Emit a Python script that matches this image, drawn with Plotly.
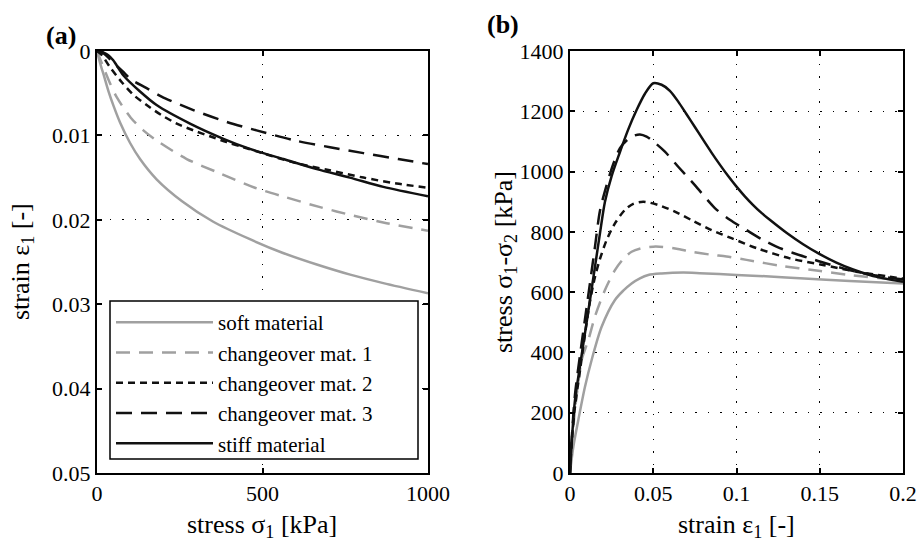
import plotly.graph_objects as go

# ---------- Panel (a): strain vs stress ----------
a_soft_x = [0, 5, 12, 20, 35, 50, 70, 100, 130, 180, 257, 350, 462, 560, 664, 765, 865, 1000]
a_soft_y = [0, 0.0008, 0.0018, 0.0028, 0.0048, 0.0065, 0.0085, 0.0109, 0.0128, 0.0152, 0.0178, 0.0202, 0.0223, 0.0239, 0.0253, 0.0265, 0.0275, 0.0287]

a_mat1_x = [0, 10, 20, 39, 60, 102, 140, 180, 271, 372, 477, 568, 674, 774, 875, 1000]
a_mat1_y = [0, 0.0010, 0.0020, 0.0038, 0.0055, 0.0079, 0.0094, 0.0106, 0.0128, 0.0145, 0.0162, 0.0173, 0.0185, 0.0195, 0.0204, 0.0213]

a_mat2_x = [0, 15, 39, 75, 110, 150, 195, 241, 291, 341, 392, 442, 500, 593, 699, 805, 905, 1000]
a_mat2_y = [0, 0.0005, 0.0019, 0.0037, 0.0052, 0.0064, 0.0076, 0.0086, 0.0094, 0.0101, 0.0108, 0.0114, 0.0121, 0.0132, 0.0141, 0.0150, 0.0157, 0.0162]

a_mat3_x = [0, 20, 50, 85, 100, 150, 195, 291, 392, 482, 598, 704, 805, 910, 1000]
a_mat3_y = [0, 0.0003, 0.0014, 0.0027, 0.0033, 0.0044, 0.0054, 0.0070, 0.0084, 0.0094, 0.0106, 0.0114, 0.0121, 0.0128, 0.0134]

a_stiff_x = [0, 10, 20, 34, 49, 80, 130, 180, 281, 382, 462, 563, 664, 764, 865, 1000]
a_stiff_y = [0, 0.0000, 0.0002, 0.0005, 0.0011, 0.0029, 0.0048, 0.0064, 0.0086, 0.0104, 0.0116, 0.0128, 0.0140, 0.0150, 0.0161, 0.0172]

# ---------- Panel (b): deviatoric stress vs strain ----------
b_soft_x = [0, 0.002, 0.005, 0.009, 0.013, 0.019, 0.027, 0.032, 0.037, 0.042, 0.047, 0.055, 0.068, 0.078, 0.1, 0.12, 0.138, 0.168, 0.2]
b_soft_y = [0, 87, 176, 286, 375, 485, 574, 605, 629, 646, 657, 662, 665, 663, 657, 652, 646, 637, 629]

b_mat1_x = [0, 0.001, 0.003, 0.005, 0.007, 0.011, 0.015, 0.021, 0.027, 0.032, 0.037, 0.043, 0.05, 0.056, 0.064, 0.073, 0.085, 0.094, 0.106, 0.127, 0.148, 0.168, 0.185, 0.2]
b_mat1_y = [0, 90, 210, 300, 375, 441, 519, 607, 673, 710, 734, 746, 751, 750, 744, 734, 724, 718, 707, 687, 672, 657, 647, 638]

b_mat2_x = [0, 0.001, 0.003, 0.006, 0.009, 0.012, 0.015, 0.018, 0.022, 0.027, 0.033, 0.038, 0.044, 0.053, 0.063, 0.073, 0.085, 0.097, 0.112, 0.132, 0.152, 0.172, 0.196, 0.2]
b_mat2_y = [0, 100, 220, 340, 460, 570, 650, 710, 773, 828, 873, 893, 900, 889, 867, 839, 806, 779, 746, 712, 690, 668, 648, 645]

b_mat3_x = [0, 0.001, 0.003, 0.006, 0.009, 0.012, 0.015, 0.018, 0.022, 0.026, 0.03, 0.034, 0.038, 0.042, 0.046, 0.05, 0.057, 0.065, 0.075, 0.087, 0.096, 0.106, 0.115, 0.124, 0.134, 0.144, 0.154, 0.164, 0.174, 0.184, 0.194, 0.2]
b_mat3_y = [0, 110, 260, 390, 510, 630, 750, 870, 955, 1025, 1078, 1103, 1118, 1123, 1116, 1100, 1066, 1016, 955, 879, 840, 806, 776, 751, 730, 712, 695, 679, 665, 655, 646, 642]

b_stiff_x = [0, 0.001, 0.003, 0.006, 0.009, 0.012, 0.015, 0.018, 0.021, 0.025, 0.03, 0.035, 0.04, 0.045, 0.05, 0.055, 0.06, 0.065, 0.07, 0.075, 0.08, 0.085, 0.09, 0.095, 0.1, 0.105, 0.11, 0.115, 0.12, 0.13, 0.14, 0.15, 0.16, 0.17, 0.18, 0.19, 0.2]
b_stiff_y = [0, 100, 242, 355, 464, 574, 684, 795, 900, 985, 1065, 1140, 1204, 1258, 1293, 1288, 1268, 1232, 1190, 1148, 1105, 1063, 1023, 985, 950, 918, 889, 863, 840, 797, 759, 726, 698, 675, 657, 644, 634]

names = ["soft material", "changeover mat. 1", "changeover mat. 2", "changeover mat. 3", "stiff material"]
colors = ["#a0a0a0", "#a0a0a0", "#111111", "#111111", "#111111"]
dashes = ["solid", "14px,9px", "7px,5px", "16px,9px", "solid"]

a_x = [a_soft_x, a_mat1_x, a_mat2_x, a_mat3_x, a_stiff_x]
a_y = [a_soft_y, a_mat1_y, a_mat2_y, a_mat3_y, a_stiff_y]
b_x = [b_soft_x, b_mat1_x, b_mat2_x, b_mat3_x, b_stiff_x]
b_y = [b_soft_y, b_mat1_y, b_mat2_y, b_mat3_y, b_stiff_y]

FONT = "Liberation Serif"

fig = go.Figure()
for i in range(5):
    fig.add_trace(go.Scatter(x=a_x[i], y=a_y[i], mode="lines", name=names[i],
                             line=dict(color=colors[i], width=2.5, dash=dashes[i], shape="spline", smoothing=0.8),
                             xaxis="x", yaxis="y", showlegend=True))
for i in range(5):
    fig.add_trace(go.Scatter(x=b_x[i], y=b_y[i], mode="lines", name=names[i],
                             line=dict(color=colors[i], width=2.5, dash=dashes[i], shape="spline", smoothing=0.8),
                             xaxis="x2", yaxis="y2", showlegend=False))

W, H = 919, 544
def px(v):
    return v / W
def py(v):
    return 1 - v / H

axis_common = dict(showline=True, linecolor="black", linewidth=2, mirror="allticks",
                   ticks="inside", ticklen=5, tickwidth=1.5, tickcolor="black",
                   showgrid=True, gridcolor="black", gridwidth=1, griddash="1.5px,11px",
                   zeroline=False, automargin=False,
                   tickfont=dict(family=FONT, size=22, color="black"))

a_yticks = [0, 0.01, 0.02, 0.03, 0.04, 0.05]
a_xticks = [0, 500, 1000]
b_xticks = [0, 0.05, 0.1, 0.15, 0.2]
b_yticks = [0, 200, 400, 600, 800, 1000, 1200, 1400]

fig.update_layout(
    width=W, height=H, margin=dict(l=0, r=0, t=0, b=0, autoexpand=False),
    paper_bgcolor="white", plot_bgcolor="white",
    font=dict(family=FONT, size=22, color="black"),
    xaxis=dict(domain=[px(97), px(428)], range=[0, 1000], tickvals=a_xticks,
               ticktext=[str(v) for v in a_xticks], anchor="y", **axis_common),
    yaxis=dict(domain=[py(473), py(51)], range=[0.05, 0], tickvals=a_yticks,
               ticktext=["0", "0.01", "0.02", "0.03", "0.04", "0.05"], anchor="x", **axis_common),
    xaxis2=dict(domain=[px(570), px(903)], range=[0, 0.2], tickvals=b_xticks,
                ticktext=["0", "0.05", "0.1", "0.15", "0.2"], anchor="y2", **axis_common),
    yaxis2=dict(domain=[py(473), py(51)], range=[0, 1400], tickvals=b_yticks,
                ticktext=[str(v) for v in b_yticks], anchor="x2", **axis_common),
    legend=dict(x=px(111), y=py(302), xanchor="left", yanchor="top",
                bgcolor="rgba(0,0,0,0)", borderwidth=0,
                font=dict(family=FONT, size=21, color="black"),
                itemwidth=97, tracegroupgap=0),
    showlegend=True,
)

# legend frame (white box with black border behind the legend entries)
fig.add_shape(type="rect", xref="paper", yref="paper",
              x0=px(110), x1=px(418), y0=py(459), y1=py(301),
              line=dict(color="black", width=1.5), fillcolor="white", layer="above")

ann = [
    dict(text="<b>(a)</b>", x=px(61), y=py(35), size=26),
    dict(text="<b>(b)</b>", x=px(503), y=py(25), size=26),
    dict(text="stress σ<sub>1</sub> [kPa]", x=px(262), y=py(526), size=26),
    dict(text="strain ε<sub>1</sub> [-]", x=px(736), y=py(526), size=26),
    dict(text="strain ε<sub>1</sub> [-]", x=px(22), y=py(262), size=26, textangle=-90),
    dict(text="stress σ<sub>1</sub>-σ<sub>2</sub> [kPa]", x=px(505), y=py(262), size=26, textangle=-90),
]
for a in ann:
    size = a.pop("size")
    fig.add_annotation(xref="paper", yref="paper", showarrow=False,
                       xanchor="center", yanchor="middle",
                       font=dict(family=FONT, size=size, color="black"), **a)

fig.write_html("out.html")
